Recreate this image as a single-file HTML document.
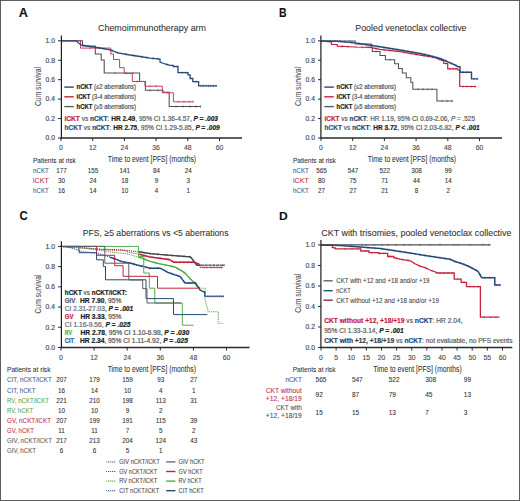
<!DOCTYPE html>
<html><head><meta charset="utf-8"><style>
html,body{margin:0;padding:0;background:#fff;}
body{width:520px;height:501px;overflow:hidden;font-family:"Liberation Sans", sans-serif;}
svg{display:block;}
text{stroke-width:0.2px;}
</style></head><body>
<svg width="520" height="501" viewBox="0 0 520 501" font-family='"Liberation Sans", sans-serif'>
<rect x="0" y="0" width="520" height="501" fill="#fff"/>
<defs><clipPath id="clipCR"><rect x="138" y="200" width="61.5" height="160"/></clipPath><clipPath id="clipCB"><rect x="110" y="200" width="95.5" height="160"/></clipPath></defs>
<rect x="0.5" y="0.5" width="519" height="500" fill="none" stroke="#5e5e5e" stroke-width="1"/>
<text x="18.8" y="17" font-size="13" fill="#111" stroke="#111" style="stroke-width:0.08px" font-weight="bold" textLength="9.2" lengthAdjust="spacingAndGlyphs">A</text>
<text x="278.9" y="16.6" font-size="12.5" fill="#111" stroke="#111" style="stroke-width:0.08px" font-weight="bold" textLength="7.6" lengthAdjust="spacingAndGlyphs">B</text>
<text x="19.4" y="220.4" font-size="12.6" fill="#111" stroke="#111" style="stroke-width:0.08px" font-weight="bold" textLength="8.2" lengthAdjust="spacingAndGlyphs">C</text>
<text x="279.1" y="219.8" font-size="11.3" fill="#111" stroke="#111" style="stroke-width:0.08px" font-weight="bold" textLength="8.7" lengthAdjust="spacingAndGlyphs">D</text>
<text x="98" y="30.8" font-size="9" fill="#333" stroke="#333" textLength="108" lengthAdjust="spacingAndGlyphs" style="stroke-width:0.08px">Chemoimmunotherapy arm</text>
<path d="M61,40.8 H82.5 V46 H95.3 V53.9 H101.2 V60 H104.2 V73 H139.6 V81.5 H145.4 V90.3 H163 V92.3 H169.2 V106.5 H200.8" stroke="#4a4e57" stroke-width="1.05" fill="none"/>
<path d="M115.0,71.8V74.2M126.0,71.8V74.2M133.0,71.8V74.2M150.0,89.1V91.5M158.0,89.1V91.5M176.0,105.3V107.7M183.0,105.3V107.7M190.0,105.3V107.7M196.0,105.3V107.7M200.5,105.3V107.7" stroke="#4a4e57" stroke-width="0.6" fill="none"/>
<path d="M61,40.8 H80.5 V48.1 H110.8 V54 H113.5 V59.5 H119.6 V67.7 H124.2 V73.5 H132.3 V81.5 H145 V86.2 H162.3 V92.8 H173.4 V101.8 H193.5" stroke="#cf3a58" stroke-width="1.0" fill="none"/>
<path d="M90.0,46.9V49.3M100.0,46.9V49.3M137.0,80.3V82.7M150.0,85.0V87.4M156.0,85.0V87.4M168.0,91.6V94.0M178.0,100.6V103.0M184.0,100.6V103.0M189.0,100.6V103.0M193.0,100.6V103.0" stroke="#cf3a58" stroke-width="0.6" fill="none"/>
<path d="M61,40.8 H76 L81,45 L90,46.5 L100,48 L110,49.8 L118,52.8 L130,55 L140,56.5 L150,58.2 L160,59 V62 L165,64 L170,65.3 H173.2 V66.5 H178 V72.7 H188 V74.8 H190.1 V78.5 H192.8 V81.7 H198.6 V85.9 H217.1" stroke="#234a7a" stroke-width="1.3" fill="none"/>
<path d="M104.0,47.5V49.9M112.0,49.3V51.8M118.0,51.6V54.0M126.0,53.1V55.5M134.0,54.4V56.8M142.0,55.6V58.0M147.0,56.5V58.9M153.0,57.2V59.6M158.0,57.6V60.0M167.0,63.3V65.7M182.0,71.5V73.9M186.0,71.5V73.9M196.0,80.5V82.9M201.0,84.7V87.1M203.5,84.7V87.1M206.0,84.7V87.1M208.5,84.7V87.1M211.0,84.7V87.1M213.5,84.7V87.1M216.0,84.7V87.1" stroke="#234a7a" stroke-width="0.6" fill="none"/>
<line x1="61.4" y1="35.6" x2="61.4" y2="138.5" stroke="#1e1e1e" stroke-width="1.2"/>
<line x1="60.4" y1="138" x2="242" y2="138" stroke="#2a2a2a" stroke-width="1.3"/>
<line x1="58" y1="40.8" x2="61" y2="40.8" stroke="#2a2a2a" stroke-width="1"/>
<text x="55" y="43.1" font-size="6.8" fill="#4a4a4a" stroke="#4a4a4a" style="stroke-width:0.15px" text-anchor="end">1.0</text>
<line x1="58" y1="60.239999999999995" x2="61" y2="60.239999999999995" stroke="#2a2a2a" stroke-width="1"/>
<text x="55" y="62.54" font-size="6.8" fill="#4a4a4a" stroke="#4a4a4a" style="stroke-width:0.15px" text-anchor="end">0.8</text>
<line x1="58" y1="79.68" x2="61" y2="79.68" stroke="#2a2a2a" stroke-width="1"/>
<text x="55" y="81.98" font-size="6.8" fill="#4a4a4a" stroke="#4a4a4a" style="stroke-width:0.15px" text-anchor="end">0.6</text>
<line x1="58" y1="99.12" x2="61" y2="99.12" stroke="#2a2a2a" stroke-width="1"/>
<text x="55" y="101.42" font-size="6.8" fill="#4a4a4a" stroke="#4a4a4a" style="stroke-width:0.15px" text-anchor="end">0.4</text>
<line x1="58" y1="118.56" x2="61" y2="118.56" stroke="#2a2a2a" stroke-width="1"/>
<text x="55" y="120.86" font-size="6.8" fill="#4a4a4a" stroke="#4a4a4a" style="stroke-width:0.15px" text-anchor="end">0.2</text>
<line x1="58" y1="138.0" x2="61" y2="138.0" stroke="#2a2a2a" stroke-width="1"/>
<text x="55" y="140.3" font-size="6.8" fill="#4a4a4a" stroke="#4a4a4a" style="stroke-width:0.15px" text-anchor="end">0.0</text>
<line x1="61.0" y1="138" x2="61.0" y2="141" stroke="#2a2a2a" stroke-width="1"/>
<text x="61.0" y="149.6" font-size="6.8" fill="#4a4a4a" stroke="#4a4a4a" style="stroke-width:0.12px" text-anchor="middle">0</text>
<line x1="92.7" y1="138" x2="92.7" y2="141" stroke="#2a2a2a" stroke-width="1"/>
<text x="92.7" y="149.6" font-size="6.8" fill="#4a4a4a" stroke="#4a4a4a" style="stroke-width:0.12px" text-anchor="middle">12</text>
<line x1="124.4" y1="138" x2="124.4" y2="141" stroke="#2a2a2a" stroke-width="1"/>
<text x="124.4" y="149.6" font-size="6.8" fill="#4a4a4a" stroke="#4a4a4a" style="stroke-width:0.12px" text-anchor="middle">24</text>
<line x1="156.1" y1="138" x2="156.1" y2="141" stroke="#2a2a2a" stroke-width="1"/>
<text x="156.1" y="149.6" font-size="6.8" fill="#4a4a4a" stroke="#4a4a4a" style="stroke-width:0.12px" text-anchor="middle">36</text>
<line x1="187.8" y1="138" x2="187.8" y2="141" stroke="#2a2a2a" stroke-width="1"/>
<text x="187.8" y="149.6" font-size="6.8" fill="#4a4a4a" stroke="#4a4a4a" style="stroke-width:0.12px" text-anchor="middle">48</text>
<line x1="219.5" y1="138" x2="219.5" y2="141" stroke="#2a2a2a" stroke-width="1"/>
<text x="219.5" y="149.6" font-size="6.8" fill="#4a4a4a" stroke="#4a4a4a" style="stroke-width:0.12px" text-anchor="middle">60</text>
<text transform="translate(40.5,86.5) rotate(-90)" font-size="9" fill="#505050" stroke="#505050" text-anchor="middle" textLength="39" lengthAdjust="spacingAndGlyphs" style="stroke-width:0.1px">Cum survival</text>
<line x1="64.3" y1="87.1" x2="73.8" y2="87.1" stroke="#234a7a" stroke-width="1.4"/>
<text x="76.6" y="89.3" font-size="6.4" fill="#555" stroke="#555" textLength="59.4" lengthAdjust="spacingAndGlyphs"><tspan fill="#222" stroke="#222" font-weight="bold">nCKT</tspan> (≤2 aberrations)</text>
<line x1="64.3" y1="96.8" x2="73.8" y2="96.8" stroke="#c4223f" stroke-width="1.4"/>
<text x="76.6" y="99.0" font-size="6.4" fill="#555" stroke="#555" textLength="59.4" lengthAdjust="spacingAndGlyphs"><tspan fill="#222" stroke="#222" font-weight="bold">iCKT</tspan> (3-4 aberrations)</text>
<line x1="64.3" y1="106.6" x2="73.8" y2="106.6" stroke="#5a5e66" stroke-width="1.4"/>
<text x="76.6" y="108.8" font-size="6.4" fill="#555" stroke="#555" textLength="59.4" lengthAdjust="spacingAndGlyphs"><tspan fill="#222" stroke="#222" font-weight="bold">hCKT</tspan> (≥5 aberrations)</text>
<text x="64.5" y="120.5" font-size="6.7" fill="#5e5e5e" stroke="#5e5e5e" textLength="153.5" lengthAdjust="spacingAndGlyphs"><tspan fill="#c4223f" stroke="#c4223f" font-weight="bold">iCKT</tspan> vs <tspan fill="#234a7a" stroke="#234a7a" font-weight="bold">nCKT</tspan>: <tspan fill="#222" stroke="#222" font-weight="bold">HR 2.49</tspan>, 95% CI 1.36-4.57, <tspan fill="#222" stroke="#222" font-weight="bold" font-style="italic">P = .003</tspan></text>
<text x="64.5" y="130.4" font-size="6.7" fill="#5e5e5e" stroke="#5e5e5e" textLength="155.2" lengthAdjust="spacingAndGlyphs"><tspan fill="#45505f" stroke="#45505f" font-weight="bold">hCKT</tspan> vs <tspan fill="#234a7a" stroke="#234a7a" font-weight="bold">nCKT</tspan>: <tspan fill="#222" stroke="#222" font-weight="bold">HR 2.75</tspan>, 95% CI 1.29-5.85, <tspan fill="#222" stroke="#222" font-weight="bold" font-style="italic">P = .009</tspan></text>
<text x="107.8" y="162.1" font-size="9.9" fill="#333" stroke="#333" style="stroke-width:0.08px" textLength="88.3" lengthAdjust="spacingAndGlyphs">Time to event [PFS] (months)</text>
<text x="33" y="162.5" font-size="7.2" fill="#333" stroke="#333" style="stroke-width:0.08px" textLength="42.8" lengthAdjust="spacingAndGlyphs">Patients at risk</text>
<text x="33" y="172.7" font-size="7.3" fill="#3b5678" stroke="#3b5678" style="stroke-width:0.08px" textLength="15.8" lengthAdjust="spacingAndGlyphs">nCKT</text>
<text x="61.4" y="172.7" font-size="6.3" fill="#333" stroke="#333" style="stroke-width:0.08px" text-anchor="middle">177</text>
<text x="93.1" y="172.7" font-size="6.3" fill="#333" stroke="#333" style="stroke-width:0.08px" text-anchor="middle">155</text>
<text x="124.8" y="172.7" font-size="6.3" fill="#333" stroke="#333" style="stroke-width:0.08px" text-anchor="middle">141</text>
<text x="156.5" y="172.7" font-size="6.3" fill="#333" stroke="#333" style="stroke-width:0.08px" text-anchor="middle">84</text>
<text x="188.2" y="172.7" font-size="6.3" fill="#333" stroke="#333" style="stroke-width:0.08px" text-anchor="middle">24</text>
<text x="33" y="183.0" font-size="7.3" fill="#b8304a" stroke="#b8304a" style="stroke-width:0.08px" textLength="15.8" lengthAdjust="spacingAndGlyphs">iCKT</text>
<text x="61.4" y="183.0" font-size="6.3" fill="#333" stroke="#333" style="stroke-width:0.08px" text-anchor="middle">30</text>
<text x="93.1" y="183.0" font-size="6.3" fill="#333" stroke="#333" style="stroke-width:0.08px" text-anchor="middle">24</text>
<text x="124.8" y="183.0" font-size="6.3" fill="#333" stroke="#333" style="stroke-width:0.08px" text-anchor="middle">18</text>
<text x="156.5" y="183.0" font-size="6.3" fill="#333" stroke="#333" style="stroke-width:0.08px" text-anchor="middle">9</text>
<text x="188.2" y="183.0" font-size="6.3" fill="#333" stroke="#333" style="stroke-width:0.08px" text-anchor="middle">3</text>
<text x="33" y="193.2" font-size="7.3" fill="#4d5868" stroke="#4d5868" style="stroke-width:0.08px" textLength="15.8" lengthAdjust="spacingAndGlyphs">hCKT</text>
<text x="61.4" y="193.2" font-size="6.3" fill="#333" stroke="#333" style="stroke-width:0.08px" text-anchor="middle">16</text>
<text x="93.1" y="193.2" font-size="6.3" fill="#333" stroke="#333" style="stroke-width:0.08px" text-anchor="middle">14</text>
<text x="124.8" y="193.2" font-size="6.3" fill="#333" stroke="#333" style="stroke-width:0.08px" text-anchor="middle">10</text>
<text x="156.5" y="193.2" font-size="6.3" fill="#333" stroke="#333" style="stroke-width:0.08px" text-anchor="middle">4</text>
<text x="188.2" y="193.2" font-size="6.3" fill="#333" stroke="#333" style="stroke-width:0.08px" text-anchor="middle">1</text>
<text x="355.3" y="30.8" font-size="9" fill="#333" stroke="#333" textLength="111.2" lengthAdjust="spacingAndGlyphs" style="stroke-width:0.08px">Pooled venetoclax collective</text>
<path d="M321,41 H355.2 V44 H371.3 V47.4 H372.3 V51.5 H380 V55.4 H385.4 V59.7 H394.6 V63.8 H398.5 V68.5 H402.3 V73 H406.2 V77.7 H410.8 V82.3 H412.8 V89.2 H436.9 V101 H453" stroke="#4d525b" stroke-width="1.05" fill="none"/>
<path d="M340.0,39.8V42.2M350.0,39.8V42.2M362.0,42.8V45.2M376.0,50.3V52.7M390.0,58.5V60.9M418.0,88.0V90.4M423.0,88.0V90.4M428.0,88.0V90.4M432.0,88.0V90.4M442.0,99.8V102.2M447.0,99.8V102.2M452.0,99.8V102.2" stroke="#4d525b" stroke-width="0.6" fill="none"/>
<path d="M321,41 L330,42 H331.5 V44.5 H337.3 V46.2 L355,47 L370,47.3 L380,49.3 L400,51.6 L420,55.2 L430,56.6 L436,58 L443,60.8 H443.8 V63.5 H447.7 V68.8 H457.7 V70 H459.7 V86.5 H476.2" stroke="#c4223f" stroke-width="1.2" fill="none"/>
<path d="M342.0,45.2V47.6M348.0,45.5V47.9M356.0,45.8V48.2M362.0,45.9V48.3M368.0,46.1V48.5M376.0,47.3V49.7M384.0,48.6V51.0M390.0,49.2V51.7M396.0,49.9V52.3M404.0,51.1V53.5M410.0,52.2V54.6M416.0,53.3V55.7M424.0,54.6V57.0M428.0,55.1V57.5M433.0,56.1V58.5M439.0,58.0V60.4M446.0,62.3V64.7M450.0,67.6V70.0M453.0,67.6V70.0M456.0,67.6V70.0M463.0,85.3V87.7M467.0,85.3V87.7M471.0,85.3V87.7M475.0,85.3V87.7" stroke="#c4223f" stroke-width="0.6" fill="none"/>
<path d="M321,41 L337,41.3 L355,42.9 L370,45.2 L380,46.8 L400,50 L420,53.5 L430,55.8 L440,58.5 L445,60.5 L450,62.8 L455,65 L458,66.7 H460 V72.3 H471.5 V78.9 H478.2" stroke="#234a7a" stroke-width="1.4" fill="none"/>
<path d="M345.0,40.8V43.2M352.0,41.4V43.8M359.0,42.3V44.7M366.0,43.4V45.8M372.0,44.3V46.7M378.0,45.3V47.7M384.0,46.2V48.6M388.0,46.9V49.3M393.0,47.7V50.1M398.0,48.5V50.9M403.0,49.3V51.7M408.0,50.2V52.6M412.0,50.9V53.3M416.0,51.6V54.0M421.0,52.5V54.9M425.0,53.4V55.9M429.0,54.4V56.8M433.0,55.4V57.8M437.0,56.5V58.9M441.0,57.7V60.1M446.0,59.8V62.2M451.0,62.0V64.4M456.0,64.4V66.8M463.0,71.1V73.5M467.0,71.1V73.5M474.0,77.7V80.1M477.0,77.7V80.1" stroke="#234a7a" stroke-width="0.6" fill="none"/>
<line x1="320.9" y1="35.6" x2="320.9" y2="138.5" stroke="#1e1e1e" stroke-width="1.2"/>
<line x1="320.4" y1="138" x2="502" y2="138" stroke="#2a2a2a" stroke-width="1.3"/>
<line x1="318" y1="40.8" x2="321" y2="40.8" stroke="#2a2a2a" stroke-width="1"/>
<text x="315" y="43.1" font-size="6.8" fill="#4a4a4a" stroke="#4a4a4a" style="stroke-width:0.15px" text-anchor="end">1.0</text>
<line x1="318" y1="60.239999999999995" x2="321" y2="60.239999999999995" stroke="#2a2a2a" stroke-width="1"/>
<text x="315" y="62.54" font-size="6.8" fill="#4a4a4a" stroke="#4a4a4a" style="stroke-width:0.15px" text-anchor="end">0.8</text>
<line x1="318" y1="79.68" x2="321" y2="79.68" stroke="#2a2a2a" stroke-width="1"/>
<text x="315" y="81.98" font-size="6.8" fill="#4a4a4a" stroke="#4a4a4a" style="stroke-width:0.15px" text-anchor="end">0.6</text>
<line x1="318" y1="99.12" x2="321" y2="99.12" stroke="#2a2a2a" stroke-width="1"/>
<text x="315" y="101.42" font-size="6.8" fill="#4a4a4a" stroke="#4a4a4a" style="stroke-width:0.15px" text-anchor="end">0.4</text>
<line x1="318" y1="118.56" x2="321" y2="118.56" stroke="#2a2a2a" stroke-width="1"/>
<text x="315" y="120.86" font-size="6.8" fill="#4a4a4a" stroke="#4a4a4a" style="stroke-width:0.15px" text-anchor="end">0.2</text>
<line x1="318" y1="138.0" x2="321" y2="138.0" stroke="#2a2a2a" stroke-width="1"/>
<text x="315" y="140.3" font-size="6.8" fill="#4a4a4a" stroke="#4a4a4a" style="stroke-width:0.15px" text-anchor="end">0.0</text>
<line x1="321.0" y1="138" x2="321.0" y2="141" stroke="#2a2a2a" stroke-width="1"/>
<text x="321.0" y="149.6" font-size="6.8" fill="#4a4a4a" stroke="#4a4a4a" style="stroke-width:0.12px" text-anchor="middle">0</text>
<line x1="352.7" y1="138" x2="352.7" y2="141" stroke="#2a2a2a" stroke-width="1"/>
<text x="352.7" y="149.6" font-size="6.8" fill="#4a4a4a" stroke="#4a4a4a" style="stroke-width:0.12px" text-anchor="middle">12</text>
<line x1="384.4" y1="138" x2="384.4" y2="141" stroke="#2a2a2a" stroke-width="1"/>
<text x="384.4" y="149.6" font-size="6.8" fill="#4a4a4a" stroke="#4a4a4a" style="stroke-width:0.12px" text-anchor="middle">24</text>
<line x1="416.1" y1="138" x2="416.1" y2="141" stroke="#2a2a2a" stroke-width="1"/>
<text x="416.1" y="149.6" font-size="6.8" fill="#4a4a4a" stroke="#4a4a4a" style="stroke-width:0.12px" text-anchor="middle">36</text>
<line x1="447.8" y1="138" x2="447.8" y2="141" stroke="#2a2a2a" stroke-width="1"/>
<text x="447.8" y="149.6" font-size="6.8" fill="#4a4a4a" stroke="#4a4a4a" style="stroke-width:0.12px" text-anchor="middle">48</text>
<line x1="479.5" y1="138" x2="479.5" y2="141" stroke="#2a2a2a" stroke-width="1"/>
<text x="479.5" y="149.6" font-size="6.8" fill="#4a4a4a" stroke="#4a4a4a" style="stroke-width:0.12px" text-anchor="middle">60</text>
<text transform="translate(300.5,86.5) rotate(-90)" font-size="9" fill="#505050" stroke="#505050" text-anchor="middle" textLength="39" lengthAdjust="spacingAndGlyphs" style="stroke-width:0.1px">Cum survival</text>
<line x1="324.3" y1="87.1" x2="333.8" y2="87.1" stroke="#234a7a" stroke-width="1.4"/>
<text x="336.6" y="89.3" font-size="6.4" fill="#555" stroke="#555" textLength="59.4" lengthAdjust="spacingAndGlyphs"><tspan fill="#222" stroke="#222" font-weight="bold">nCKT</tspan> (≤2 aberrations)</text>
<line x1="324.3" y1="96.8" x2="333.8" y2="96.8" stroke="#c4223f" stroke-width="1.4"/>
<text x="336.6" y="99.0" font-size="6.4" fill="#555" stroke="#555" textLength="59.4" lengthAdjust="spacingAndGlyphs"><tspan fill="#222" stroke="#222" font-weight="bold">iCKT</tspan> (3-4 aberrations)</text>
<line x1="324.3" y1="106.6" x2="333.8" y2="106.6" stroke="#5a5e66" stroke-width="1.4"/>
<text x="336.6" y="108.8" font-size="6.4" fill="#555" stroke="#555" textLength="59.4" lengthAdjust="spacingAndGlyphs"><tspan fill="#222" stroke="#222" font-weight="bold">hCKT</tspan> (≥5 aberrations)</text>
<text x="324.5" y="120.5" font-size="6.7" fill="#5e5e5e" stroke="#5e5e5e" textLength="150.5" lengthAdjust="spacingAndGlyphs"><tspan fill="#c4223f" stroke="#c4223f" font-weight="bold">iCKT</tspan> vs <tspan fill="#234a7a" stroke="#234a7a" font-weight="bold">nCKT</tspan>: HR 1.19, 95% CI 0.69-2.06, <tspan fill="#555" stroke="#555" font-style="italic">P</tspan> = .525</text>
<text x="324.5" y="130.4" font-size="6.7" fill="#5e5e5e" stroke="#5e5e5e" textLength="155.2" lengthAdjust="spacingAndGlyphs"><tspan fill="#45505f" stroke="#45505f" font-weight="bold">hCKT</tspan> vs <tspan fill="#234a7a" stroke="#234a7a" font-weight="bold">nCKT</tspan>: <tspan fill="#222" stroke="#222" font-weight="bold">HR 3.72</tspan>, 95% CI 2.03-6.82, <tspan fill="#222" stroke="#222" font-weight="bold" font-style="italic">P &lt; .001</tspan></text>
<text x="367.8" y="162.1" font-size="9.9" fill="#333" stroke="#333" style="stroke-width:0.08px" textLength="88.3" lengthAdjust="spacingAndGlyphs">Time to event [PFS] (months)</text>
<text x="293" y="162.5" font-size="7.2" fill="#333" stroke="#333" style="stroke-width:0.08px" textLength="42.8" lengthAdjust="spacingAndGlyphs">Patients at risk</text>
<text x="293" y="172.7" font-size="7.3" fill="#3b5678" stroke="#3b5678" style="stroke-width:0.08px" textLength="15.8" lengthAdjust="spacingAndGlyphs">nCKT</text>
<text x="321.4" y="172.7" font-size="6.3" fill="#333" stroke="#333" style="stroke-width:0.08px" text-anchor="middle">565</text>
<text x="353.1" y="172.7" font-size="6.3" fill="#333" stroke="#333" style="stroke-width:0.08px" text-anchor="middle">547</text>
<text x="384.8" y="172.7" font-size="6.3" fill="#333" stroke="#333" style="stroke-width:0.08px" text-anchor="middle">522</text>
<text x="416.5" y="172.7" font-size="6.3" fill="#333" stroke="#333" style="stroke-width:0.08px" text-anchor="middle">308</text>
<text x="448.2" y="172.7" font-size="6.3" fill="#333" stroke="#333" style="stroke-width:0.08px" text-anchor="middle">99</text>
<text x="293" y="183.0" font-size="7.3" fill="#b8304a" stroke="#b8304a" style="stroke-width:0.08px" textLength="15.8" lengthAdjust="spacingAndGlyphs">iCKT</text>
<text x="321.4" y="183.0" font-size="6.3" fill="#333" stroke="#333" style="stroke-width:0.08px" text-anchor="middle">80</text>
<text x="353.1" y="183.0" font-size="6.3" fill="#333" stroke="#333" style="stroke-width:0.08px" text-anchor="middle">75</text>
<text x="384.8" y="183.0" font-size="6.3" fill="#333" stroke="#333" style="stroke-width:0.08px" text-anchor="middle">71</text>
<text x="416.5" y="183.0" font-size="6.3" fill="#333" stroke="#333" style="stroke-width:0.08px" text-anchor="middle">44</text>
<text x="448.2" y="183.0" font-size="6.3" fill="#333" stroke="#333" style="stroke-width:0.08px" text-anchor="middle">14</text>
<text x="293" y="193.2" font-size="7.3" fill="#4d5868" stroke="#4d5868" style="stroke-width:0.08px" textLength="15.8" lengthAdjust="spacingAndGlyphs">hCKT</text>
<text x="321.4" y="193.2" font-size="6.3" fill="#333" stroke="#333" style="stroke-width:0.08px" text-anchor="middle">27</text>
<text x="353.1" y="193.2" font-size="6.3" fill="#333" stroke="#333" style="stroke-width:0.08px" text-anchor="middle">27</text>
<text x="384.8" y="193.2" font-size="6.3" fill="#333" stroke="#333" style="stroke-width:0.08px" text-anchor="middle">21</text>
<text x="416.5" y="193.2" font-size="6.3" fill="#333" stroke="#333" style="stroke-width:0.08px" text-anchor="middle">8</text>
<text x="448.2" y="193.2" font-size="6.3" fill="#333" stroke="#333" style="stroke-width:0.08px" text-anchor="middle">2</text>
<text x="82.8" y="235.8" font-size="9" fill="#333" stroke="#333" textLength="145.7" lengthAdjust="spacingAndGlyphs" style="stroke-width:0.08px">PFS, ≥5 aberrations vs &lt;5 aberrations</text>
<path d="M61,246.4 L81,247.6 L95,248.8 L100,249.2 L120,249.8 L130,250.7 L140,252 L150,253.6 L168,255.2 L190.4,256.9 L193,260 L194.6,262.7 L197,265.2 H224.4" stroke="#3f434a" stroke-width="1.15" fill="none" stroke-dasharray="1,0.9"/>
<g clip-path="url(#clipCR)">
<path d="M61,246.4 L81,247.6 L95,248.8 L100,249.2 L120,249.8 L130,250.7 L140,252 L150,253.6 L168,255.2 L190.4,256.9 L193,260 L194.6,262.7 L197,265.2 H224.4" stroke="#3f434a" stroke-width="1.35" fill="none"/>
<path d="M70.0,245.7V248.1M78.0,246.2V248.6M86.0,246.8V249.2M94.0,247.5V249.9M102.0,248.1V250.5M110.0,248.3V250.7M118.0,248.5V250.9M126.0,249.1V251.5M134.0,250.0V252.4M142.0,251.1V253.5M150.0,252.4V254.8M158.0,253.1V255.5M166.0,253.8V256.2M172.0,254.3V256.7M178.0,254.8V257.2M184.0,255.2V257.6M190.0,255.7V258.1M200.0,264.0V266.4M204.0,264.0V266.4M208.0,264.0V266.4M212.0,264.0V266.4M216.0,264.0V266.4M220.0,264.0V266.4M224.0,264.0V266.4" stroke="#3f434a" stroke-width="0.6" fill="none"/>
</g>
<path d="M61,246.4 L81,247.8 L95,249.2 L100,249.5 L125,250.5 L128,252 L135,253.5 L140,254.5 L150,257 L169,259.5 L174,262.2 H194.6 L200.4,264.6 V267.5 H222.5" stroke="#c4223f" stroke-width="1.15" fill="none" stroke-dasharray="1,0.9"/>
<g clip-path="url(#clipCR)">
<path d="M61,246.4 L81,247.8 L95,249.2 L100,249.5 L125,250.5 L128,252 L135,253.5 L140,254.5 L150,257 L169,259.5 L174,262.2 H194.6 L200.4,264.6 V267.5 H222.5" stroke="#c4223f" stroke-width="1.35" fill="none"/>
<path d="M72.0,246.0V248.4M80.0,246.5V248.9M88.0,247.3V249.7M96.0,248.1V250.5M104.0,248.5V250.9M112.0,248.8V251.2M120.0,249.1V251.5M128.0,250.8V253.2M136.0,252.5V254.9M144.0,254.3V256.7M152.0,256.1V258.5M160.0,257.1V259.5M168.0,258.2V260.6M176.0,261.0V263.4M180.0,261.0V263.4M184.0,261.0V263.4M188.0,261.0V263.4M192.0,261.0V263.4M204.0,266.3V268.7M208.0,266.3V268.7M212.0,266.3V268.7M216.0,266.3V268.7M220.0,266.3V268.7" stroke="#c4223f" stroke-width="0.6" fill="none"/>
</g>
<path d="M61,246.4 L81,247.8 L95,249.5 L105,251 L115,252.6 L125,253.5 L130,254.5 L135,256.2 L140,257.5 L145,259.4 L150,261.3 L160,263.9 L170,265.8 L175,267.2 L178,268.7 L185,273 L190,278.6 L193,281.4 L196,283.8 L198,286.7 L200,288.2 H205 V292" stroke="#52ad4a" stroke-width="1.15" fill="none" stroke-dasharray="1,0.9"/>
<g clip-path="url(#clipCR)">
<path d="M61,246.4 L81,247.8 L95,249.5 L105,251 L115,252.6 L125,253.5 L130,254.5 L135,256.2 L140,257.5 L145,259.4 L150,261.3 L160,263.9 L170,265.8 L175,267.2 L178,268.7 L185,273 L190,278.6 L193,281.4 L196,283.8 L198,286.7 L200,288.2 H205 V292" stroke="#52ad4a" stroke-width="1.35" fill="none"/>
<path d="M75.0,246.2V248.6M85.0,247.1V249.5M95.0,248.3V250.7M105.0,249.8V252.2M115.0,251.4V253.8M125.0,252.3V254.7M135.0,255.0V257.4M145.0,258.2V260.6M155.0,261.4V263.8M165.0,263.7V266.1M172.0,265.2V267.6M178.0,267.5V269.9M184.0,271.2V273.6M190.0,277.4V279.8M196.0,282.6V285.0M202.0,287.0V289.4" stroke="#52ad4a" stroke-width="0.6" fill="none"/>
</g>
<path d="M205,292 V298 L206,304 L208,310 V311.8 H218.3 V323.2 H223.5" stroke="#52ad4a" stroke-width="1.1" fill="none" stroke-dasharray="1,0.8"/>
<path d="M61,246.4 L70,247.5 L78,250 L81,251.8 L95.7,253 L105,255.5 L115,258.9 L122,261.7 L130,263 L137,265 L145,266.8 L150,268.2 L160,268.2 L163,269.6 L168,272.5 L175,274.9 L180,276.4 L185,283 H195.6 L197,286 L199,288 L200,290 L204.2,292 H205 V296.3 H224" stroke="#234a7a" stroke-width="1.15" fill="none" stroke-dasharray="1,0.9"/>
<g clip-path="url(#clipCB)">
<path d="M61,246.4 L70,247.5 L78,250 L81,251.8 L95.7,253 L105,255.5 L115,258.9 L122,261.7 L130,263 L137,265 L145,266.8 L150,268.2 L160,268.2 L163,269.6 L168,272.5 L175,274.9 L180,276.4 L185,283 H195.6 L197,286 L199,288 L200,290 L204.2,292 H205 V296.3 H224" stroke="#234a7a" stroke-width="1.35" fill="none"/>
<path d="M74.0,247.6V249.9M84.0,250.8V253.2M94.0,251.7V254.1M104.0,254.0V256.4M114.0,257.4V259.8M124.0,260.8V263.2M134.0,262.9V265.3M142.0,264.9V267.3M150.0,267.0V269.4M158.0,267.0V269.4M166.0,270.1V272.5M172.0,272.7V275.1M178.0,274.6V277.0M184.0,280.5V282.9M190.0,281.8V284.2M196.0,282.7V285.1M208.0,295.1V297.5M212.0,295.1V297.5M216.0,295.1V297.5M220.0,295.1V297.5M223.0,295.1V297.5" stroke="#234a7a" stroke-width="0.6" fill="none"/>
</g>
<path d="M202.0,264.0V266.4M206.0,264.0V266.4M210.0,264.0V266.4M214.0,264.0V266.4M218.0,264.0V266.4M222.0,264.0V266.4M224.0,264.0V266.4" stroke="#3f434a" stroke-width="0.6" fill="none"/>
<path d="M204.0,266.3V268.7M207.0,266.3V268.7M211.0,266.3V268.7M214.0,266.3V268.7M217.0,266.3V268.7M220.0,266.3V268.7M222.0,266.3V268.7" stroke="#c4223f" stroke-width="0.6" fill="none"/>
<path d="M208.0,295.1V297.5M211.0,295.1V297.5M214.0,295.1V297.5M217.0,295.1V297.5M220.0,295.1V297.5M223.0,295.1V297.5" stroke="#234a7a" stroke-width="0.6" fill="none"/>
<path d="M197,265.2 H224.4" stroke="#3f434a" stroke-width="0.6" fill="none"/>
<path d="M200.4,267.5 H222.5" stroke="#c4223f" stroke-width="0.6" fill="none"/>
<path d="M205,296.3 H224" stroke="#234a7a" stroke-width="0.7" fill="none"/>
<path d="M61,246.4 H138.5 V256.5 H143.75 V273 H149.3 V288.2 H154.8 V303 H182.3 V325.2 H193.6" stroke="#52ad4a" stroke-width="1.0" fill="none"/>
<path d="M61,246.4 H96.6 V255.3 H114.7 V265.7 H123.1 V276.3 H157.5 V288.2 H199.5" stroke="#c4223f" stroke-width="1.0" fill="none"/>
<path d="M61,246.4 H79 V252.7 H96.6 V259.8 H103.3 V266.5 H105.5 V279.8 H146 V298.6 H173.5 V314.6 H207.3" stroke="#234a7a" stroke-width="1.0" fill="none"/>
<path d="M61,246.4 H104.8 V263.2 H128.8 V280 H142.7 V288.7 H147 V303 H181.2" stroke="#5a5e66" stroke-width="1.0" fill="none"/>
<line x1="61.4" y1="241.2" x2="61.4" y2="348.0" stroke="#1e1e1e" stroke-width="1.2"/>
<line x1="60.4" y1="347.5" x2="249.5" y2="347.5" stroke="#2a2a2a" stroke-width="1.3"/>
<line x1="58" y1="246.4" x2="61" y2="246.4" stroke="#2a2a2a" stroke-width="1"/>
<text x="55" y="248.7" font-size="6.8" fill="#4a4a4a" stroke="#4a4a4a" style="stroke-width:0.15px" text-anchor="end">1.0</text>
<line x1="58" y1="266.62" x2="61" y2="266.62" stroke="#2a2a2a" stroke-width="1"/>
<text x="55" y="268.92" font-size="6.8" fill="#4a4a4a" stroke="#4a4a4a" style="stroke-width:0.15px" text-anchor="end">0.8</text>
<line x1="58" y1="286.84000000000003" x2="61" y2="286.84000000000003" stroke="#2a2a2a" stroke-width="1"/>
<text x="55" y="289.14" font-size="6.8" fill="#4a4a4a" stroke="#4a4a4a" style="stroke-width:0.15px" text-anchor="end">0.6</text>
<line x1="58" y1="307.06" x2="61" y2="307.06" stroke="#2a2a2a" stroke-width="1"/>
<text x="55" y="309.36" font-size="6.8" fill="#4a4a4a" stroke="#4a4a4a" style="stroke-width:0.15px" text-anchor="end">0.4</text>
<line x1="58" y1="327.28" x2="61" y2="327.28" stroke="#2a2a2a" stroke-width="1"/>
<text x="55" y="329.58" font-size="6.8" fill="#4a4a4a" stroke="#4a4a4a" style="stroke-width:0.15px" text-anchor="end">0.2</text>
<line x1="58" y1="347.5" x2="61" y2="347.5" stroke="#2a2a2a" stroke-width="1"/>
<text x="55" y="349.8" font-size="6.8" fill="#4a4a4a" stroke="#4a4a4a" style="stroke-width:0.15px" text-anchor="end">0.0</text>
<line x1="61.0" y1="347.5" x2="61.0" y2="350.5" stroke="#2a2a2a" stroke-width="1"/>
<text x="61.0" y="359.6" font-size="6.8" fill="#4a4a4a" stroke="#4a4a4a" style="stroke-width:0.12px" text-anchor="middle">0</text>
<line x1="94.1" y1="347.5" x2="94.1" y2="350.5" stroke="#2a2a2a" stroke-width="1"/>
<text x="94.1" y="359.6" font-size="6.8" fill="#4a4a4a" stroke="#4a4a4a" style="stroke-width:0.12px" text-anchor="middle">12</text>
<line x1="127.2" y1="347.5" x2="127.2" y2="350.5" stroke="#2a2a2a" stroke-width="1"/>
<text x="127.2" y="359.6" font-size="6.8" fill="#4a4a4a" stroke="#4a4a4a" style="stroke-width:0.12px" text-anchor="middle">24</text>
<line x1="160.3" y1="347.5" x2="160.3" y2="350.5" stroke="#2a2a2a" stroke-width="1"/>
<text x="160.3" y="359.6" font-size="6.8" fill="#4a4a4a" stroke="#4a4a4a" style="stroke-width:0.12px" text-anchor="middle">36</text>
<line x1="193.4" y1="347.5" x2="193.4" y2="350.5" stroke="#2a2a2a" stroke-width="1"/>
<text x="193.4" y="359.6" font-size="6.8" fill="#4a4a4a" stroke="#4a4a4a" style="stroke-width:0.12px" text-anchor="middle">48</text>
<line x1="226.5" y1="347.5" x2="226.5" y2="350.5" stroke="#2a2a2a" stroke-width="1"/>
<text x="226.5" y="359.6" font-size="6.8" fill="#4a4a4a" stroke="#4a4a4a" style="stroke-width:0.12px" text-anchor="middle">60</text>
<text transform="translate(40.5,294) rotate(-90)" font-size="9" fill="#505050" stroke="#505050" text-anchor="middle" textLength="39" lengthAdjust="spacingAndGlyphs" style="stroke-width:0.1px">Cum survival</text>
<text x="64.8" y="295.4" font-size="6.6" fill="#555" stroke="#555" textLength="62" lengthAdjust="spacingAndGlyphs"><tspan fill="#222" stroke="#222" font-weight="bold">hCKT</tspan> vs <tspan fill="#222" stroke="#222" font-weight="bold">nCKT/iCKT:</tspan></text>
<text x="64.8" y="303.4" font-size="6.6" fill="#555" stroke="#555" textLength="12.2" lengthAdjust="spacingAndGlyphs"><tspan fill="#555a66" stroke="#555a66" font-weight="bold">GIV</tspan><tspan fill="#999" stroke="#999">:</tspan></text>
<text x="80.0" y="303.4" font-size="6.6" fill="#555" stroke="#555" textLength="41.4" lengthAdjust="spacingAndGlyphs"><tspan fill="#222" stroke="#222" font-weight="bold">HR 7.90</tspan>, 95%</text>
<text x="64.8" y="311.2" font-size="6.6" fill="#6a6a72" stroke="#6a6a72" textLength="68.4" lengthAdjust="spacingAndGlyphs">CI 2.31-27.03, <tspan fill="#222" stroke="#222" font-weight="bold" font-style="italic">P = .001</tspan></text>
<text x="64.8" y="319.3" font-size="6.6" fill="#555" stroke="#555" textLength="10.2" lengthAdjust="spacingAndGlyphs"><tspan fill="#c4223f" stroke="#c4223f" font-weight="bold">GV</tspan><tspan fill="#e9a0ac" stroke="#e9a0ac">:</tspan></text>
<text x="80.5" y="319.3" font-size="6.6" fill="#555" stroke="#555" textLength="40.9" lengthAdjust="spacingAndGlyphs"><tspan fill="#222" stroke="#222" font-weight="bold">HR 3.33</tspan>, 95%</text>
<text x="64.8" y="327.09999999999997" font-size="6.6" fill="#6a6a72" stroke="#6a6a72" textLength="65.7" lengthAdjust="spacingAndGlyphs">CI 1.16-9.56, <tspan fill="#222" stroke="#222" font-weight="bold" font-style="italic">P = .025</tspan></text>
<text x="64.8" y="335.09999999999997" font-size="6.6" fill="#555" stroke="#555" textLength="8.7" lengthAdjust="spacingAndGlyphs"><tspan fill="#52ad4a" stroke="#52ad4a" font-weight="bold">RV</tspan><tspan fill="#b5dcb0" stroke="#b5dcb0">:</tspan></text>
<text x="80.5" y="335.09999999999997" font-size="6.6" fill="#555" stroke="#555" textLength="108.7" lengthAdjust="spacingAndGlyphs"><tspan fill="#222" stroke="#222" font-weight="bold">HR 2.78</tspan>, 95% CI 1.10-6.98, <tspan fill="#222" stroke="#222" font-weight="bold" font-style="italic">P = .030</tspan></text>
<text x="64.8" y="343.09999999999997" font-size="6.6" fill="#555" stroke="#555" textLength="10.7" lengthAdjust="spacingAndGlyphs"><tspan fill="#3a5d8e" stroke="#3a5d8e" font-weight="bold">CIT</tspan><tspan fill="#9fb4cf" stroke="#9fb4cf">:</tspan></text>
<text x="80.0" y="343.09999999999997" font-size="6.6" fill="#555" stroke="#555" textLength="107.9" lengthAdjust="spacingAndGlyphs"><tspan fill="#222" stroke="#222" font-weight="bold">HR 2.34</tspan>, 95% CI 1.11-4.92, <tspan fill="#222" stroke="#222" font-weight="bold" font-style="italic">P = .025</tspan></text>
<text x="107.7" y="372.1" font-size="9.9" fill="#333" stroke="#333" style="stroke-width:0.08px" textLength="88.2" lengthAdjust="spacingAndGlyphs">Time to event [PFS] (months)</text>
<text x="7" y="372.2" font-size="7.2" fill="#333" stroke="#333" style="stroke-width:0.08px" textLength="43.5" lengthAdjust="spacingAndGlyphs">Patients at risk</text>
<text x="7" y="382.4" font-size="7.3" fill="#3a5f90" stroke="#3a5f90" style="stroke-width:0.08px" textLength="44.8" lengthAdjust="spacingAndGlyphs">CIT, nCKT/iCKT</text>
<text x="61.4" y="382.4" font-size="6.3" fill="#333" stroke="#333" style="stroke-width:0.08px" text-anchor="middle">207</text>
<text x="94.5" y="382.4" font-size="6.3" fill="#333" stroke="#333" style="stroke-width:0.08px" text-anchor="middle">179</text>
<text x="127.6" y="382.4" font-size="6.3" fill="#333" stroke="#333" style="stroke-width:0.08px" text-anchor="middle">159</text>
<text x="160.7" y="382.4" font-size="6.3" fill="#333" stroke="#333" style="stroke-width:0.08px" text-anchor="middle">93</text>
<text x="193.8" y="382.4" font-size="6.3" fill="#333" stroke="#333" style="stroke-width:0.08px" text-anchor="middle">27</text>
<text x="7" y="392.55" font-size="7.3" fill="#3a5f90" stroke="#3a5f90" style="stroke-width:0.08px" textLength="28.5" lengthAdjust="spacingAndGlyphs">CIT, hCKT</text>
<text x="61.4" y="392.55" font-size="6.3" fill="#333" stroke="#333" style="stroke-width:0.08px" text-anchor="middle">16</text>
<text x="94.5" y="392.55" font-size="6.3" fill="#333" stroke="#333" style="stroke-width:0.08px" text-anchor="middle">14</text>
<text x="127.6" y="392.55" font-size="6.3" fill="#333" stroke="#333" style="stroke-width:0.08px" text-anchor="middle">10</text>
<text x="160.7" y="392.55" font-size="6.3" fill="#333" stroke="#333" style="stroke-width:0.08px" text-anchor="middle">4</text>
<text x="193.8" y="392.55" font-size="6.3" fill="#333" stroke="#333" style="stroke-width:0.08px" text-anchor="middle">1</text>
<text x="7" y="402.7" font-size="7.3" fill="#55a550" stroke="#55a550" style="stroke-width:0.08px" textLength="42" lengthAdjust="spacingAndGlyphs">RV, nCKT/iCKT</text>
<text x="61.4" y="402.7" font-size="6.3" fill="#333" stroke="#333" style="stroke-width:0.08px" text-anchor="middle">221</text>
<text x="94.5" y="402.7" font-size="6.3" fill="#333" stroke="#333" style="stroke-width:0.08px" text-anchor="middle">210</text>
<text x="127.6" y="402.7" font-size="6.3" fill="#333" stroke="#333" style="stroke-width:0.08px" text-anchor="middle">198</text>
<text x="160.7" y="402.7" font-size="6.3" fill="#333" stroke="#333" style="stroke-width:0.08px" text-anchor="middle">113</text>
<text x="193.8" y="402.7" font-size="6.3" fill="#333" stroke="#333" style="stroke-width:0.08px" text-anchor="middle">31</text>
<text x="7" y="412.85" font-size="7.3" fill="#55a550" stroke="#55a550" style="stroke-width:0.08px" textLength="26" lengthAdjust="spacingAndGlyphs">RV, hCKT</text>
<text x="61.4" y="412.85" font-size="6.3" fill="#333" stroke="#333" style="stroke-width:0.08px" text-anchor="middle">10</text>
<text x="94.5" y="412.85" font-size="6.3" fill="#333" stroke="#333" style="stroke-width:0.08px" text-anchor="middle">10</text>
<text x="127.6" y="412.85" font-size="6.3" fill="#333" stroke="#333" style="stroke-width:0.08px" text-anchor="middle">9</text>
<text x="160.7" y="412.85" font-size="6.3" fill="#333" stroke="#333" style="stroke-width:0.08px" text-anchor="middle">2</text>
<text x="7" y="423.0" font-size="7.3" fill="#be2c48" stroke="#be2c48" style="stroke-width:0.08px" textLength="44" lengthAdjust="spacingAndGlyphs">GV, nCKT/iCKT</text>
<text x="61.4" y="423.0" font-size="6.3" fill="#333" stroke="#333" style="stroke-width:0.08px" text-anchor="middle">207</text>
<text x="94.5" y="423.0" font-size="6.3" fill="#333" stroke="#333" style="stroke-width:0.08px" text-anchor="middle">199</text>
<text x="127.6" y="423.0" font-size="6.3" fill="#333" stroke="#333" style="stroke-width:0.08px" text-anchor="middle">191</text>
<text x="160.7" y="423.0" font-size="6.3" fill="#333" stroke="#333" style="stroke-width:0.08px" text-anchor="middle">115</text>
<text x="193.8" y="423.0" font-size="6.3" fill="#333" stroke="#333" style="stroke-width:0.08px" text-anchor="middle">39</text>
<text x="7" y="433.15" font-size="7.3" fill="#be2c48" stroke="#be2c48" style="stroke-width:0.08px" textLength="27" lengthAdjust="spacingAndGlyphs">GV, hCKT</text>
<text x="61.4" y="433.15" font-size="6.3" fill="#333" stroke="#333" style="stroke-width:0.08px" text-anchor="middle">11</text>
<text x="94.5" y="433.15" font-size="6.3" fill="#333" stroke="#333" style="stroke-width:0.08px" text-anchor="middle">11</text>
<text x="127.6" y="433.15" font-size="6.3" fill="#333" stroke="#333" style="stroke-width:0.08px" text-anchor="middle">7</text>
<text x="160.7" y="433.15" font-size="6.3" fill="#333" stroke="#333" style="stroke-width:0.08px" text-anchor="middle">5</text>
<text x="193.8" y="433.15" font-size="6.3" fill="#333" stroke="#333" style="stroke-width:0.08px" text-anchor="middle">2</text>
<text x="7" y="443.3" font-size="7.3" fill="#555a64" stroke="#555a64" style="stroke-width:0.08px" textLength="45" lengthAdjust="spacingAndGlyphs">GIV, nCKT/iCKT</text>
<text x="61.4" y="443.3" font-size="6.3" fill="#333" stroke="#333" style="stroke-width:0.08px" text-anchor="middle">217</text>
<text x="94.5" y="443.3" font-size="6.3" fill="#333" stroke="#333" style="stroke-width:0.08px" text-anchor="middle">213</text>
<text x="127.6" y="443.3" font-size="6.3" fill="#333" stroke="#333" style="stroke-width:0.08px" text-anchor="middle">204</text>
<text x="160.7" y="443.3" font-size="6.3" fill="#333" stroke="#333" style="stroke-width:0.08px" text-anchor="middle">124</text>
<text x="193.8" y="443.3" font-size="6.3" fill="#333" stroke="#333" style="stroke-width:0.08px" text-anchor="middle">43</text>
<text x="7" y="453.45" font-size="7.3" fill="#555a64" stroke="#555a64" style="stroke-width:0.08px" textLength="29" lengthAdjust="spacingAndGlyphs">GIV, hCKT</text>
<text x="61.4" y="453.45" font-size="6.3" fill="#333" stroke="#333" style="stroke-width:0.08px" text-anchor="middle">6</text>
<text x="94.5" y="453.45" font-size="6.3" fill="#333" stroke="#333" style="stroke-width:0.08px" text-anchor="middle">6</text>
<text x="127.6" y="453.45" font-size="6.3" fill="#333" stroke="#333" style="stroke-width:0.08px" text-anchor="middle">5</text>
<text x="160.7" y="453.45" font-size="6.3" fill="#333" stroke="#333" style="stroke-width:0.08px" text-anchor="middle">1</text>
<line x1="106.2" y1="461.9" x2="115.4" y2="461.9" stroke="#6a6e78" stroke-width="1"/>
<line x1="106.2" y1="461.9" x2="115.4" y2="461.9" stroke="#fff" stroke-width="1.2" stroke-dasharray="0.9,1.1" stroke-dashoffset="-0.9"/>
<text x="119.2" y="464.1" font-size="7.6" fill="#444" stroke="#444" style="stroke-width:0.08px" textLength="40.5" lengthAdjust="spacingAndGlyphs">GIV nCKT/iCKT</text>
<line x1="166.2" y1="461.9" x2="175.4" y2="461.9" stroke="#6a6e78" stroke-width="1.4"/>
<text x="178.5" y="464.1" font-size="7.6" fill="#444" stroke="#444" style="stroke-width:0.08px" textLength="26.1" lengthAdjust="spacingAndGlyphs">GIV hCKT</text>
<line x1="106.2" y1="471.5" x2="115.4" y2="471.5" stroke="#c4223f" stroke-width="1"/>
<line x1="106.2" y1="471.5" x2="115.4" y2="471.5" stroke="#fff" stroke-width="1.2" stroke-dasharray="0.9,1.1" stroke-dashoffset="-0.9"/>
<text x="119.2" y="473.7" font-size="7.6" fill="#444" stroke="#444" style="stroke-width:0.08px" textLength="38" lengthAdjust="spacingAndGlyphs">GV nCKT/iCKT</text>
<line x1="166.2" y1="471.5" x2="175.4" y2="471.5" stroke="#c4223f" stroke-width="1.4"/>
<text x="178.5" y="473.7" font-size="7.6" fill="#444" stroke="#444" style="stroke-width:0.08px" textLength="24.3" lengthAdjust="spacingAndGlyphs">GV hCKT</text>
<line x1="106.2" y1="481.09999999999997" x2="115.4" y2="481.09999999999997" stroke="#52ad4a" stroke-width="1"/>
<line x1="106.2" y1="481.09999999999997" x2="115.4" y2="481.09999999999997" stroke="#fff" stroke-width="1.2" stroke-dasharray="0.9,1.1" stroke-dashoffset="-0.9"/>
<text x="119.2" y="483.3" font-size="7.6" fill="#444" stroke="#444" style="stroke-width:0.08px" textLength="38" lengthAdjust="spacingAndGlyphs">RV nCKT/iCKT</text>
<line x1="166.2" y1="481.09999999999997" x2="175.4" y2="481.09999999999997" stroke="#52ad4a" stroke-width="1.4"/>
<text x="178.5" y="483.3" font-size="7.6" fill="#444" stroke="#444" style="stroke-width:0.08px" textLength="23" lengthAdjust="spacingAndGlyphs">RV hCKT</text>
<line x1="106.2" y1="490.7" x2="115.4" y2="490.7" stroke="#234a7a" stroke-width="1"/>
<line x1="106.2" y1="490.7" x2="115.4" y2="490.7" stroke="#fff" stroke-width="1.2" stroke-dasharray="0.9,1.1" stroke-dashoffset="-0.9"/>
<text x="119.2" y="492.9" font-size="7.6" fill="#444" stroke="#444" style="stroke-width:0.08px" textLength="40" lengthAdjust="spacingAndGlyphs">CIT nCKT/iCKT</text>
<line x1="166.2" y1="490.7" x2="175.4" y2="490.7" stroke="#234a7a" stroke-width="1.4"/>
<text x="178.5" y="492.9" font-size="7.6" fill="#444" stroke="#444" style="stroke-width:0.08px" textLength="25.3" lengthAdjust="spacingAndGlyphs">CIT hCKT</text>
<text x="321.3" y="235.8" font-size="9" fill="#333" stroke="#333" textLength="190.2" lengthAdjust="spacingAndGlyphs" style="stroke-width:0.08px">CKT with trisomies, pooled venetoclax collective</text>
<path d="M321,245 L332.3,245 V247.5 L335.4,248 V248.8 H360.8 V251 H369 V252.6 H378.5 V253.4 H387.7 V256.5 H393.8 V257.7 L400,259.2 L410.4,260.8 L415,263.8 L420,266.2 L425,267.7 L430,270 L436.5,272.5 V273 H454.2 V279.2 H461.2 V282.3 H466.5 V286.7 H480.4 V317.2 H499.4" stroke="#c4223f" stroke-width="1.3" fill="none"/>
<path d="M345.0,247.7V249.9M352.0,247.7V249.9M358.0,247.7V249.9M366.0,249.9V252.1M372.0,251.5V253.7M380.0,252.3V254.5M384.0,252.3V254.5M390.0,255.4V257.6M396.0,257.1V259.3M402.0,258.4V260.6M408.0,259.3V261.5M414.0,262.0V264.2M420.0,265.1V267.3M426.0,267.1V269.3M432.0,269.7V271.9M440.0,271.9V274.1M444.0,271.9V274.1M448.0,271.9V274.1M452.0,271.9V274.1M458.0,278.1V280.3M464.0,281.2V283.4M470.0,285.6V287.8M474.0,285.6V287.8M478.0,285.6V287.8M484.0,316.1V318.3M490.0,316.1V318.3M496.0,316.1V318.3" stroke="#c4223f" stroke-width="0.6" fill="none"/>
<path d="M321,245 L340,245.5 L360,247 L380,248.5 L395,250.8 L410,253 L425,255.4 L440,257.7 L450,259.2 L455,261.5 L460,263 L465,264.8 L470,267 L478,271.4 L481,276.5 L482,277.7 H494.8 V285 H500.7" stroke="#234a7a" stroke-width="1.5" fill="none"/>
<path d="M350.0,245.2V247.3M360.0,245.9V248.1M368.0,246.5V248.7M375.0,247.0V249.2M382.0,247.7V249.9M388.0,248.6V250.8M394.0,249.5V251.7M400.0,250.4V252.6M405.0,251.2V253.4M410.0,251.9V254.1M415.0,252.7V254.9M420.0,253.5V255.7M425.0,254.3V256.5M430.0,255.1V257.3M435.0,255.8V258.0M440.0,256.6V258.8M445.0,257.3V259.6M450.0,258.1V260.3M455.0,260.4V262.6M460.0,261.9V264.1M464.0,263.3V265.5M468.0,265.0V267.2M472.0,267.0V269.2M476.0,269.2V271.4M480.0,273.7V275.9M485.0,276.6V278.8M490.0,276.6V278.8M497.0,283.9V286.1M500.0,283.9V286.1" stroke="#234a7a" stroke-width="0.6" fill="none"/>
<path d="M321,244.9 H490.6" stroke="#4a4d52" stroke-width="1.1" fill="none"/>
<path d="M352.0,243.8V246.0M362.0,243.8V246.0M366.0,243.8V246.0M374.0,243.8V246.0M382.0,243.8V246.0M388.0,243.8V246.0M396.0,243.8V246.0M404.0,243.8V246.0M410.0,243.8V246.0M420.0,243.8V246.0M430.0,243.8V246.0M440.0,243.8V246.0M454.0,243.8V246.0M458.0,243.8V246.0M470.0,243.8V246.0M483.0,243.8V246.0M489.0,243.8V246.0" stroke="#4a4d52" stroke-width="0.6" fill="none"/>
<line x1="320.9" y1="240" x2="320.9" y2="348.0" stroke="#1e1e1e" stroke-width="1.2"/>
<line x1="320.4" y1="347.5" x2="512.3" y2="347.5" stroke="#2a2a2a" stroke-width="1.3"/>
<line x1="318" y1="245.0" x2="321" y2="245.0" stroke="#2a2a2a" stroke-width="1"/>
<text x="315" y="247.3" font-size="6.8" fill="#4a4a4a" stroke="#4a4a4a" style="stroke-width:0.15px" text-anchor="end">1.0</text>
<line x1="318" y1="265.5" x2="321" y2="265.5" stroke="#2a2a2a" stroke-width="1"/>
<text x="315" y="267.8" font-size="6.8" fill="#4a4a4a" stroke="#4a4a4a" style="stroke-width:0.15px" text-anchor="end">0.8</text>
<line x1="318" y1="286.0" x2="321" y2="286.0" stroke="#2a2a2a" stroke-width="1"/>
<text x="315" y="288.3" font-size="6.8" fill="#4a4a4a" stroke="#4a4a4a" style="stroke-width:0.15px" text-anchor="end">0.6</text>
<line x1="318" y1="306.5" x2="321" y2="306.5" stroke="#2a2a2a" stroke-width="1"/>
<text x="315" y="308.8" font-size="6.8" fill="#4a4a4a" stroke="#4a4a4a" style="stroke-width:0.15px" text-anchor="end">0.4</text>
<line x1="318" y1="327.0" x2="321" y2="327.0" stroke="#2a2a2a" stroke-width="1"/>
<text x="315" y="329.3" font-size="6.8" fill="#4a4a4a" stroke="#4a4a4a" style="stroke-width:0.15px" text-anchor="end">0.2</text>
<line x1="318" y1="347.5" x2="321" y2="347.5" stroke="#2a2a2a" stroke-width="1"/>
<text x="315" y="349.8" font-size="6.8" fill="#4a4a4a" stroke="#4a4a4a" style="stroke-width:0.15px" text-anchor="end">0.0</text>
<line x1="321.0" y1="347.5" x2="321.0" y2="350.5" stroke="#2a2a2a" stroke-width="1"/>
<text x="321.0" y="359.6" font-size="6.8" fill="#4a4a4a" stroke="#4a4a4a" style="stroke-width:0.12px" text-anchor="middle">0</text>
<line x1="336.12" y1="347.5" x2="336.12" y2="350.5" stroke="#2a2a2a" stroke-width="1"/>
<text x="336.12" y="359.6" font-size="6.8" fill="#4a4a4a" stroke="#4a4a4a" style="stroke-width:0.12px" text-anchor="middle">5</text>
<line x1="351.24" y1="347.5" x2="351.24" y2="350.5" stroke="#2a2a2a" stroke-width="1"/>
<text x="351.24" y="359.6" font-size="6.8" fill="#4a4a4a" stroke="#4a4a4a" style="stroke-width:0.12px" text-anchor="middle">10</text>
<line x1="366.36" y1="347.5" x2="366.36" y2="350.5" stroke="#2a2a2a" stroke-width="1"/>
<text x="366.36" y="359.6" font-size="6.8" fill="#4a4a4a" stroke="#4a4a4a" style="stroke-width:0.12px" text-anchor="middle">15</text>
<line x1="381.48" y1="347.5" x2="381.48" y2="350.5" stroke="#2a2a2a" stroke-width="1"/>
<text x="381.48" y="359.6" font-size="6.8" fill="#4a4a4a" stroke="#4a4a4a" style="stroke-width:0.12px" text-anchor="middle">20</text>
<line x1="396.6" y1="347.5" x2="396.6" y2="350.5" stroke="#2a2a2a" stroke-width="1"/>
<text x="396.6" y="359.6" font-size="6.8" fill="#4a4a4a" stroke="#4a4a4a" style="stroke-width:0.12px" text-anchor="middle">25</text>
<line x1="411.72" y1="347.5" x2="411.72" y2="350.5" stroke="#2a2a2a" stroke-width="1"/>
<text x="411.72" y="359.6" font-size="6.8" fill="#4a4a4a" stroke="#4a4a4a" style="stroke-width:0.12px" text-anchor="middle">30</text>
<line x1="426.84000000000003" y1="347.5" x2="426.84000000000003" y2="350.5" stroke="#2a2a2a" stroke-width="1"/>
<text x="426.84" y="359.6" font-size="6.8" fill="#4a4a4a" stroke="#4a4a4a" style="stroke-width:0.12px" text-anchor="middle">35</text>
<line x1="441.96000000000004" y1="347.5" x2="441.96000000000004" y2="350.5" stroke="#2a2a2a" stroke-width="1"/>
<text x="441.96" y="359.6" font-size="6.8" fill="#4a4a4a" stroke="#4a4a4a" style="stroke-width:0.12px" text-anchor="middle">40</text>
<line x1="457.08000000000004" y1="347.5" x2="457.08000000000004" y2="350.5" stroke="#2a2a2a" stroke-width="1"/>
<text x="457.08" y="359.6" font-size="6.8" fill="#4a4a4a" stroke="#4a4a4a" style="stroke-width:0.12px" text-anchor="middle">45</text>
<line x1="472.2" y1="347.5" x2="472.2" y2="350.5" stroke="#2a2a2a" stroke-width="1"/>
<text x="472.2" y="359.6" font-size="6.8" fill="#4a4a4a" stroke="#4a4a4a" style="stroke-width:0.12px" text-anchor="middle">50</text>
<line x1="487.32" y1="347.5" x2="487.32" y2="350.5" stroke="#2a2a2a" stroke-width="1"/>
<text x="487.32" y="359.6" font-size="6.8" fill="#4a4a4a" stroke="#4a4a4a" style="stroke-width:0.12px" text-anchor="middle">55</text>
<line x1="502.44" y1="347.5" x2="502.44" y2="350.5" stroke="#2a2a2a" stroke-width="1"/>
<text x="502.44" y="359.6" font-size="6.8" fill="#4a4a4a" stroke="#4a4a4a" style="stroke-width:0.12px" text-anchor="middle">60</text>
<text transform="translate(300.5,293.3) rotate(-90)" font-size="9" fill="#505050" stroke="#505050" text-anchor="middle" textLength="39" lengthAdjust="spacingAndGlyphs" style="stroke-width:0.1px">Cum survival</text>
<line x1="323.5" y1="280.8" x2="332.7" y2="280.8" stroke="#5f6166" stroke-width="1.4"/>
<text x="336.2" y="283.2" font-size="6.5" fill="#444" stroke="#444" style="stroke-width:0.08px" textLength="93.4" lengthAdjust="spacingAndGlyphs">CKT with +12 and +18 and/or +19</text>
<line x1="323.5" y1="290.7" x2="332.7" y2="290.7" stroke="#1f5a70" stroke-width="1.4"/>
<text x="336.2" y="293.1" font-size="6.5" fill="#444" stroke="#444" style="stroke-width:0.08px" textLength="14.5" lengthAdjust="spacingAndGlyphs">nCKT</text>
<line x1="323.5" y1="300.2" x2="332.7" y2="300.2" stroke="#8e2444" stroke-width="1.4"/>
<text x="336.2" y="302.6" font-size="6.5" fill="#444" stroke="#444" style="stroke-width:0.08px" textLength="102.7" lengthAdjust="spacingAndGlyphs">CKT without +12 and +18 and/or +19</text>
<text x="324.2" y="323.09999999999997" font-size="6.8" fill="#5e5e5e" stroke="#5e5e5e" textLength="138.3" lengthAdjust="spacingAndGlyphs"><tspan fill="#c4223f" stroke="#c4223f" font-weight="bold">CKT without +12, +18/+19</tspan> vs <tspan fill="#234a7a" stroke="#234a7a" font-weight="bold">nCKT</tspan>: HR 2.04,</text>
<text x="324.2" y="332.7" font-size="6.8" fill="#5e5e5e" stroke="#5e5e5e" textLength="79.5" lengthAdjust="spacingAndGlyphs">95% CI 1.33-3.14, <tspan fill="#222" stroke="#222" font-weight="bold" font-style="italic">P = .001</tspan></text>
<text x="324.2" y="342.9" font-size="6.8" fill="#5e5e5e" stroke="#5e5e5e" textLength="188.3" lengthAdjust="spacingAndGlyphs"><tspan fill="#3a4250" stroke="#3a4250" font-weight="bold">CKT with +12, +18/+19</tspan> vs <tspan fill="#234a7a" stroke="#234a7a" font-weight="bold">nCKT</tspan>: not evaluable, no PFS events</text>
<text x="373.2" y="372.1" font-size="9.9" fill="#333" stroke="#333" style="stroke-width:0.08px" textLength="88.5" lengthAdjust="spacingAndGlyphs">Time to event [PFS] (months)</text>
<text x="292.7" y="372.2" font-size="7.2" fill="#333" stroke="#333" style="stroke-width:0.08px" textLength="42.7" lengthAdjust="spacingAndGlyphs">Patients at risk</text>
<text x="301.8" y="382.1" font-size="6.4" fill="#3d5a80" stroke="#3d5a80" style="stroke-width:0.08px" text-anchor="end">nCKT</text>
<text x="315.6" y="382.4" font-size="6.5" fill="#333" stroke="#333" style="stroke-width:0.08px">565</text>
<text x="351.9" y="382.4" font-size="6.5" fill="#333" stroke="#333" style="stroke-width:0.08px">547</text>
<text x="388.7" y="382.4" font-size="6.5" fill="#333" stroke="#333" style="stroke-width:0.08px">522</text>
<text x="425.2" y="382.4" font-size="6.5" fill="#333" stroke="#333" style="stroke-width:0.08px">308</text>
<text x="463.8" y="382.4" font-size="6.5" fill="#333" stroke="#333" style="stroke-width:0.08px">99</text>
<text x="265.8" y="392.9" font-size="6.4" fill="#b8304a" stroke="#b8304a" style="stroke-width:0.08px" textLength="36" lengthAdjust="spacingAndGlyphs">CKT without</text>
<text x="265.8" y="400.5" font-size="6.4" fill="#b8304a" stroke="#b8304a" style="stroke-width:0.08px" textLength="36" lengthAdjust="spacingAndGlyphs">+12, +18/19</text>
<text x="315.6" y="396.7" font-size="6.5" fill="#333" stroke="#333" style="stroke-width:0.08px">92</text>
<text x="351.9" y="396.7" font-size="6.5" fill="#333" stroke="#333" style="stroke-width:0.08px">87</text>
<text x="388.7" y="396.7" font-size="6.5" fill="#333" stroke="#333" style="stroke-width:0.08px">79</text>
<text x="425.2" y="396.7" font-size="6.5" fill="#333" stroke="#333" style="stroke-width:0.08px">45</text>
<text x="463.8" y="396.7" font-size="6.5" fill="#333" stroke="#333" style="stroke-width:0.08px">13</text>
<text x="275.9" y="410.4" font-size="6.4" fill="#44505f" stroke="#44505f" style="stroke-width:0.08px" textLength="25.9" lengthAdjust="spacingAndGlyphs">CKT with</text>
<text x="265.8" y="418.0" font-size="6.4" fill="#44505f" stroke="#44505f" style="stroke-width:0.08px" textLength="36" lengthAdjust="spacingAndGlyphs">+12, +18/19</text>
<text x="315.6" y="414.9" font-size="6.5" fill="#333" stroke="#333" style="stroke-width:0.08px">15</text>
<text x="351.9" y="414.9" font-size="6.5" fill="#333" stroke="#333" style="stroke-width:0.08px">15</text>
<text x="388.7" y="414.9" font-size="6.5" fill="#333" stroke="#333" style="stroke-width:0.08px">13</text>
<text x="425.2" y="414.9" font-size="6.5" fill="#333" stroke="#333" style="stroke-width:0.08px">7</text>
<text x="463.8" y="414.9" font-size="6.5" fill="#333" stroke="#333" style="stroke-width:0.08px">3</text>
</svg>
</body></html>
